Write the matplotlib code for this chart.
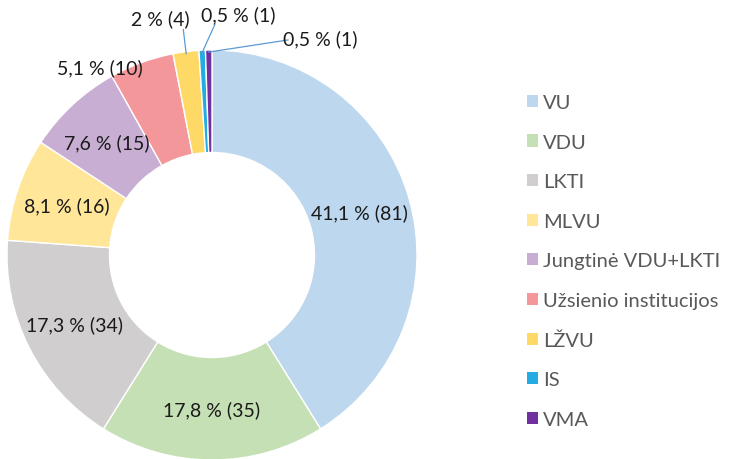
import numpy as np
import matplotlib.pyplot as plt
from matplotlib.patches import Patch

# data
labels = ['VU', 'VDU', 'LKTI', 'MLVU', 'Jungtinė VDU+LKTI',
          'Užsienio institucijos', 'LŽVU', 'IS', 'VMA']
counts = [81, 35, 34, 16, 15, 10, 4, 1, 1]
colors = ['#BDD7EE', '#C5E0B4', '#D0CECE', '#FFE699', '#C9AED4',
          '#F4979A', '#FFD966', '#23ABE2', '#7030A0']

plt.rcParams['font.family'] = ['Lato', 'DejaVu Sans']

total = sum(counts)

def fmt(c):
    pct = round(100 * c / total, 1)
    s = ('%g' % pct).replace('.', ',')
    return '%s %% (%d)' % (s, c)

fig = plt.figure(figsize=(7.32, 4.6), dpi=100)
ax = fig.add_axes([7 / 732, -1 / 460, 410 / 732, 410 / 460])

wedges, _ = ax.pie(counts, colors=colors, startangle=90, counterclock=False,
                   radius=1.0,
                   wedgeprops=dict(width=0.5, edgecolor='white', linewidth=1))
ax.set_xlim(-1, 1)
ax.set_ylim(-1, 1)
ax.set_aspect('equal')
ax.axis('off')

# big slices labelled inside the ring, the rest placed by hand
outside = {5: (-0.545, 0.915), 6: (-0.25, 1.156), 7: (0.13, 1.175), 8: (0.53, 1.059)}
leader = {6: (-0.14, 1.10), 7: (0.015, 1.127), 8: (0.371, 1.049)}
fs = 14
for i, w in enumerate(wedges):
    ang = np.deg2rad((w.theta1 + w.theta2) / 2)
    if i in outside:
        if i in leader:
            x0, y0 = 0.99 * np.cos(ang), 0.99 * np.sin(ang)
            lx, ly = leader[i]
            ax.plot([x0, lx], [y0, ly], color='#5B9BD5', lw=0.9, clip_on=False)
        tx, ty = outside[i]
        ax.text(tx, ty, fmt(counts[i]), ha='center', va='center',
                fontsize=fs, color='#1a1a1a')
    else:
        r = 0.75
        ax.text(r * np.cos(ang), r * np.sin(ang), fmt(counts[i]),
                ha='center', va='center', fontsize=fs, color='#1a1a1a')

handles = [Patch(facecolor=c, edgecolor='none') for c in colors]
fig.legend(handles, labels, loc='upper left', bbox_to_anchor=(519 / 732, 1 - 87 / 460),
           frameon=False, fontsize=14.5, labelcolor='#595959',
           handlelength=0.55, handleheight=0.55, handletextpad=0.25,
           labelspacing=1.12, borderaxespad=0)

fig.savefig('out.png', dpi=100)
